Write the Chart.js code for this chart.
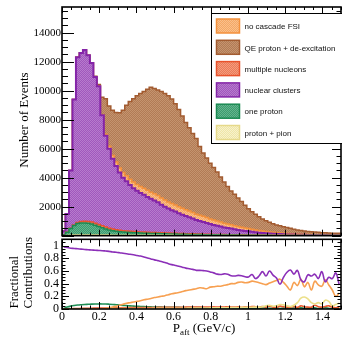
<!DOCTYPE html>
<html><head><meta charset="utf-8">
<script src="https://cdn.jsdelivr.net/npm/chart.js@4.4.0/dist/chart.umd.min.js"></script>
<style>
html,body{margin:0;padding:0;background:#fff;}
#wrap{position:relative;width:342px;height:339px;overflow:hidden;background:#fff;}
#c1{position:absolute;left:0;top:0;}
#c2{position:absolute;left:0;top:237px;}
</style></head><body>
<div id="wrap"><canvas id="c1" width="342" height="237"></canvas><canvas id="c2" width="342" height="102"></canvas></div>
<script>
// ---------- DATA ----------
const BIN_W = 0.01875;          // GeV/c, 80 bins from 0 to 1.5
const P_MAX = 1.5;
const binLow = Array.from({length: 80}, (_, k) => +(k * BIN_W).toFixed(5));
const binCenter = binLow.map(v => +(v + BIN_W / 2).toFixed(5));

const yTicksTop = [2000, 4000, 6000, 8000, 10000, 12000, 14000];
const yTicksFrac = [0, 0.2, 0.4, 0.6, 0.8, 1];
const xTicks = [0, 0.2, 0.4, 0.6, 0.8, 1, 1.2, 1.4];

const protonPion = [0,5,15,30,40,45,50,50,50,50,
 48,46,44,42,40,38,36,35,34,33,
 32,31,30,29,28,27,26,25,25,24,
 24,23,23,22,22,21,21,20,20,19,
 19,18,18,17,17,16,16,15,15,15,
 14,14,13,13,13,12,12,12,11,11,
 11,10,10,10,12,9,9,11,8,10,
 9,8,9,10,7,8,6,9,7,6];
const oneProton = [0,40,230,470,660,790,830,830,800,750,
 670,595,505,420,350,300,265,235,215,200,
 188,175,166,156,148,140,133,126,120,113,
 107,101,96,90,85,80,75,70,66,62,
 58,54,50,47,44,41,38,35,33,30,
 28,26,24,22,20,19,17,16,15,14,
 13,12,11,10,9,9,8,7,7,6,
 6,5,5,4,4,4,3,3,3,2];
const multiNucleons = [0,0,5,20,45,75,105,125,135,140,
 140,138,135,130,125,118,112,106,100,95,
 90,86,82,78,74,71,68,65,62,59,
 57,54,52,50,48,46,44,42,40,38,
 36,34,33,31,30,28,27,26,24,23,
 22,21,20,19,18,17,16,15,14,13,
 13,12,11,10,10,9,9,8,8,7,
 7,6,6,6,5,5,5,4,4,4];
const nuclearClusters = [100,255,1250,3980,8655,11390,11615,11795,11465,10960,
 10092,9521,7616,6308,5485,4844,4387,3974,3651,3422,
 3190,2988,2822,2687,2580,2432,2313,2204,2093,1934,
 1802,1692,1589,1508,1385,1303,1210,1148,1054,961,
 897,844,779,705,649,605,549,494,458,422,
 376,339,303,276,249,222,195,167,150,132,
 113,101,88,80,69,63,54,49,47,42,
 38,36,30,28,29,25,26,22,21,20];
const noCascadeFSI = [0,0,0,0,0,0,0,0,0,5,
 10,20,40,90,170,230,280,320,350,380,
 400,420,430,440,450,460,460,465,465,470,
 465,460,460,455,450,445,440,430,420,405,
 395,385,370,355,340,325,310,295,280,265,
 250,235,220,205,190,175,160,148,136,124,
 112,100,90,82,74,66,58,52,46,41,
 36,32,28,25,22,20,18,16,14,10];
const qeDeexcitation = [0,0,0,0,0,0,0,0,0,0,
 30,100,1210,2460,2780,3120,3420,3810,4300,4870,
 5350,5750,6120,6410,6670,6970,7230,7265,7285,7350,
 7345,7320,7200,6975,6710,6355,6010,5740,5450,5215,
 4745,4365,4100,3845,3620,3385,3110,2835,2590,2325,
 2160,1965,1770,1565,1360,1205,1080,942,824,736,
 658,595,530,488,446,404,372,323,284,254,
 224,203,192,177,163,148,137,131,126,123];

const fracClusters = [0.98,0.97,0.96,0.955,0.95,0.945,0.94,0.935,0.93,0.928,
 0.924,0.92,0.915,0.91,0.90,0.895,0.888,0.88,0.872,0.864,
 0.855,0.845,0.835,0.822,0.805,0.79,0.775,0.763,0.75,0.735,
 0.715,0.70,0.688,0.675,0.66,0.645,0.635,0.625,0.61,0.61,
 0.605,0.60,0.585,0.57,0.55,0.545,0.555,0.55,0.525,0.52,
 0.53,0.525,0.51,0.505,0.545,0.48,0.52,0.59,0.52,0.60,
 0.535,0.49,0.39,0.50,0.58,0.615,0.55,0.61,0.46,0.43,
 0.54,0.52,0.55,0.48,0.59,0.43,0.50,0.48,0.57,0.38];
const fracNoCascade = [0,0,0,0,0,0,0,0,0,0,
 0,0.005,0.01,0.02,0.03,0.045,0.06,0.075,0.09,0.10,
 0.11,0.12,0.13,0.145,0.155,0.165,0.18,0.19,0.20,0.21,
 0.225,0.24,0.25,0.26,0.275,0.29,0.30,0.31,0.32,0.335,
 0.33,0.32,0.345,0.35,0.36,0.36,0.375,0.385,0.40,0.40,
 0.42,0.425,0.415,0.42,0.44,0.43,0.415,0.40,0.385,0.41,
 0.43,0.45,0.47,0.42,0.36,0.30,0.42,0.37,0.47,0.35,
 0.42,0.30,0.44,0.38,0.36,0.46,0.38,0.30,0.20,0.25];
const fracOneProton = [0.01,0.03,0.045,0.055,0.062,0.067,0.071,0.074,0.077,0.079,
 0.08,0.08,0.079,0.076,0.072,0.067,0.062,0.057,0.053,0.049,
 0.046,0.043,0.04,0.037,0.035,0.033,0.031,0.03,0.029,0.028,
 0.027,0.026,0.025,0.025,0.024,0.023,0.023,0.022,0.021,0.021,
 0.02,0.02,0.019,0.019,0.018,0.018,0.017,0.017,0.016,0.016,
 0.015,0.015,0.014,0.016,0.013,0.014,0.012,0.015,0.011,0.013,
 0.01,0.012,0.009,0.014,0.01,0.008,0.015,0.01,0.02,0.008,
 0.012,0.01,0.018,0.007,0.012,0.02,0.01,0.006,0.015,0.01];
const fracMulti = [0,0,0.005,0.007,0.008,0.01,0.011,0.012,0.013,0.014,
 0.015,0.015,0.016,0.017,0.018,0.018,0.019,0.02,0.02,0.021,
 0.021,0.022,0.022,0.023,0.023,0.024,0.024,0.025,0.025,0.026,
 0.026,0.027,0.027,0.028,0.028,0.029,0.029,0.03,0.03,0.031,
 0.031,0.032,0.03,0.034,0.03,0.035,0.03,0.036,0.032,0.03,
 0.034,0.028,0.036,0.03,0.04,0.035,0.028,0.04,0.03,0.045,
 0.03,0.025,0.045,0.035,0.03,0.03,0.04,0.025,0.05,0.035,
 0.03,0.028,0.06,0.035,0.03,0.04,0.05,0.03,0.02,0.03];
const fracProtonPion = [0,0,0.002,0.003,0.003,0.004,0.004,0.004,0.004,0.004,
 0.004,0.005,0.005,0.005,0.006,0.006,0.006,0.007,0.007,0.007,
 0.008,0.008,0.008,0.009,0.009,0.009,0.01,0.01,0.01,0.011,
 0.011,0.012,0.012,0.012,0.013,0.013,0.014,0.014,0.015,0.015,
 0.016,0.016,0.017,0.018,0.018,0.019,0.02,0.021,0.022,0.023,
 0.024,0.025,0.026,0.027,0.028,0.03,0.03,0.035,0.05,0.06,
 0.045,0.05,0.07,0.065,0.05,0.04,0.06,0.10,0.17,0.19,
 0.16,0.10,0.08,0.10,0.08,0.14,0.12,0.05,0.07,0.09];

// ---------- STYLES ----------
const STY = {
  'proton + pion':               {fill:'#efe6a6', dot:'#f7f1cc', line:'#e6d98a', w:1.5},
  'one proton':                  {fill:'#3d9b6f', dot:'#63b58d', line:'#1b8a52', w:1.5},
  'multiple nucleons':           {fill:'#ec7b58', dot:'#f39c7e', line:'#e8532c', w:1.5},
  'nuclear clusters':            {fill:'#a057bd', dot:'#b77bcd', line:'#8424a8', w:2},
  'no cascade FSI':              {fill:'#f5a865', dot:'#f9c08c', line:'#f4913c', w:1.5},
  'QE proton + de-excitation':   {fill:'#b27b55', dot:'#c4946f', line:'#a25b30', w:1.5}
};
const FRAC_COL = {
  'nuclear clusters':'#8b2fb8', 'no cascade FSI':'#f7a051', 'proton + pion':'#ece08a',
  'multiple nucleons':'#ea5a30', 'one proton':'#1f8f55'
};
const SERIF = '"Liberation Serif","DejaVu Serif",serif';
const SANS = '"Liberation Sans","DejaVu Sans",sans-serif';

const ctx1 = document.getElementById('c1').getContext('2d');
function makePattern(c1, c2) {
  const p = document.createElement('canvas'); p.width = 2; p.height = 2;
  const g = p.getContext('2d');
  g.fillStyle = c1; g.fillRect(0, 0, 2, 2);
  g.fillStyle = c2; g.fillRect(0, 0, 1, 1); g.fillRect(1, 1, 1, 1);
  return ctx1.createPattern(p, 'repeat');
}
function histPoints(vals) {
  const pts = binLow.map((x, i) => ({x, y: vals[i]}));
  pts.push({x: P_MAX, y: vals[vals.length - 1]});
  return pts;
}
const stackOrder = [
  ['proton + pion', protonPion],
  ['one proton', oneProton],
  ['multiple nucleons', multiNucleons],
  ['nuclear clusters', nuclearClusters],
  ['no cascade FSI', noCascadeFSI],
  ['QE proton + de-excitation', qeDeexcitation]
];
const histSets = stackOrder.map(([label, vals], i) => ({
  label, data: histPoints(vals), stepped: 'after',
  fill: i === 0 ? 'origin' : '-1',
  backgroundColor: makePattern(STY[label].fill, STY[label].dot),
  borderColor: STY[label].line, borderWidth: STY[label].w,
  pointRadius: 0, tension: 0
}));

function noPad(s) { s.paddingTop = 0; s.paddingBottom = 0; s.paddingLeft = 0; s.paddingRight = 0; }

function drawFrame(chart, c) {
  const {ctx, chartArea: a, scales: {x, y}} = chart;
  ctx.save();
  ctx.strokeStyle = '#000'; ctx.lineWidth = 1;
  ctx.beginPath();
  const nx = Math.round((x.max - x.min) / c.xMinor);
  for (let i = 0; i <= nx; i++) {
    const v = x.min + i * c.xMinor;
    const major = Math.abs(v / c.xMajor - Math.round(v / c.xMajor)) < 1e-6;
    const L = major ? c.xMaj : c.xMin;
    const px = Math.round(x.getPixelForValue(v)) + 0.5;
    ctx.moveTo(px, a.bottom); ctx.lineTo(px, a.bottom - L);
    ctx.moveTo(px, a.top); ctx.lineTo(px, a.top + L);
  }
  const ny = Math.floor((y.max - y.min) / c.yMinor + 1e-6);
  for (let i = 0; i <= ny; i++) {
    const v = y.min + i * c.yMinor;
    const major = Math.abs(v / c.yMajor - Math.round(v / c.yMajor)) < 1e-6;
    const py = Math.round(y.getPixelForValue(v)) + 0.5;
    ctx.moveTo(a.left, py); ctx.lineTo(a.left + (major ? c.yMaj : c.yMin), py);
    ctx.moveTo(a.right, py); ctx.lineTo(a.right - (major ? c.yMajR : c.yMinR), py);
  }
  ctx.stroke();
  ctx.lineWidth = 1.6;
  ctx.strokeRect(a.left, a.top, a.right - a.left, a.bottom - a.top);
  ctx.restore();
}

const topDecor = {
  id: 'topDecor',
  afterDatasetsDraw(chart) {
    drawFrame(chart, {xMinor: 0.05, xMajor: 0.2, xMaj: 6, xMin: 3,
                      yMinor: 500, yMajor: 2000, yMaj: 12, yMin: 6, yMajR: 9, yMinR: 4.5});
    const ctx = chart.ctx;
    ctx.save();
    // legend
    ctx.fillStyle = '#fff';
    ctx.fillRect(211.5, 13.5, 140, 130);
    ctx.strokeStyle = '#000'; ctx.lineWidth = 1;
    ctx.strokeRect(211.5, 13.5, 140, 130);
    const order = ['no cascade FSI', 'QE proton + de-excitation', 'multiple nucleons',
                   'nuclear clusters', 'one proton', 'proton + pion'];
    order.forEach((lab, i) => {
      const ds = chart.data.datasets.find(d => d.label === lab);
      const cy = 26 + i * 21.3;
      ctx.fillStyle = ds.backgroundColor;
      ctx.fillRect(216.5, cy - 7, 23, 14);
      ctx.strokeStyle = ds.borderColor; ctx.lineWidth = 1.5;
      ctx.strokeRect(216.5, cy - 7, 23, 14);
      ctx.fillStyle = '#111';
      ctx.font = '8px ' + SANS;
      ctx.textBaseline = 'middle'; ctx.textAlign = 'left';
      ctx.fillText(lab, 244.5, cy + 1);
    });
    // y title
    ctx.translate(28.3, 120);
    ctx.rotate(-Math.PI / 2);
    ctx.fillStyle = '#000';
    ctx.font = '13px ' + SERIF;
    ctx.textAlign = 'center'; ctx.textBaseline = 'alphabetic';
    ctx.fillText('Number of Events', 0, 0);
    ctx.restore();
  }
};

new Chart(ctx1, {
  type: 'line',
  data: {datasets: histSets},
  options: {
    responsive: false, animation: false, devicePixelRatio: 1,
    layout: {padding: {top: 7, right: 1, bottom: 1.3, left: 0}},
    plugins: {legend: {display: false}, tooltip: {enabled: false}},
    scales: {
      x: {type: 'linear', min: 0, max: P_MAX, display: false},
      y: {type: 'linear', min: 0, max: 15770, stacked: true,
          afterFit: s => { s.width = 62; noPad(s); },
          afterBuildTicks: s => { s.ticks = yTicksTop.map(v => ({value: v})); },
          grid: {display: false, drawTicks: false}, border: {display: false},
          ticks: {padding: 1, autoSkip: false, color: '#000',
                  font: {family: SERIF, size: 11}, callback: v => String(v)}}
    }
  },
  plugins: [topDecor]
});

// ---------- lower panel ----------
const fracOrder = [
  ['nuclear clusters', fracClusters],
  ['no cascade FSI', fracNoCascade],
  ['proton + pion', fracProtonPion],
  ['multiple nucleons', fracMulti],
  ['one proton', fracOneProton]
];
const fracSets = fracOrder.map(([label, vals]) => ({
  label, data: binCenter.map((x, i) => ({x, y: vals[i]})),
  borderColor: FRAC_COL[label], borderWidth: 1.6, fill: false,
  pointRadius: 0, tension: 0.4
}));

const lowDecor = {
  id: 'lowDecor',
  afterDatasetsDraw(chart) {
    drawFrame(chart, {xMinor: 0.05, xMajor: 0.2, xMaj: 7, xMin: 3.5,
                      yMinor: 0.05, yMajor: 0.2, yMaj: 7, yMin: 3.5, yMajR: 7, yMinR: 3.5});
  },
  afterDraw(chart) {
    const ctx = chart.ctx;
    ctx.save();
    ctx.fillStyle = '#000';
    ctx.textBaseline = 'alphabetic'; ctx.textAlign = 'left';
    // x title
    ctx.font = '13px ' + SERIF; const wP = ctx.measureText('P').width;
    const wR = ctx.measureText(' (GeV/c)').width;
    ctx.font = '9px ' + SERIF; const wS = ctx.measureText('aft').width;
    let x0 = 204 - (wP + wS + wR) / 2; const base = 94.7;
    ctx.font = '13px ' + SERIF; ctx.fillText('P', x0, base);
    ctx.font = '9px ' + SERIF; ctx.fillText('aft', x0 + wP, base + 3);
    ctx.font = '13px ' + SERIF; ctx.fillText(' (GeV/c)', x0 + wP + wS, base);
    // y title
    ctx.save();
    ctx.translate(18.3, 71.5); ctx.rotate(-Math.PI / 2);
    ctx.fillText('Fractional', 0, 0);
    ctx.restore();
    ctx.save();
    ctx.translate(31.7, 71.5); ctx.rotate(-Math.PI / 2);
    ctx.fillText('Contributions', 0, 0);
    ctx.restore();
    ctx.restore();
  }
};

new Chart(document.getElementById('c2').getContext('2d'), {
  type: 'line',
  data: {datasets: fracSets},
  options: {
    responsive: false, animation: false, devicePixelRatio: 1,
    layout: {padding: {top: 2.3, right: 1, bottom: 0, left: 0}},
    plugins: {legend: {display: false}, tooltip: {enabled: false}},
    scales: {
      x: {type: 'linear', min: 0, max: P_MAX,
          afterFit: s => { s.height = 30; noPad(s); },
          afterBuildTicks: s => { s.ticks = xTicks.map(v => ({value: v})); },
          grid: {display: false, drawTicks: false}, border: {display: false},
          ticks: {padding: 1, autoSkip: false, maxRotation: 0, color: '#000',
                  font: {family: SERIF, size: 12}, callback: v => String(v)}},
      y: {type: 'linear', min: 0, max: 1.1,
          afterFit: s => { s.width = 62; noPad(s); },
          afterBuildTicks: s => { s.ticks = yTicksFrac.map(v => ({value: v})); },
          grid: {display: false, drawTicks: false}, border: {display: false},
          ticks: {padding: 3, autoSkip: false, color: '#000',
                  font: {family: SERIF, size: 12}, callback: v => String(v)}}
    }
  },
  plugins: [lowDecor]
});
</script>
</body></html>
